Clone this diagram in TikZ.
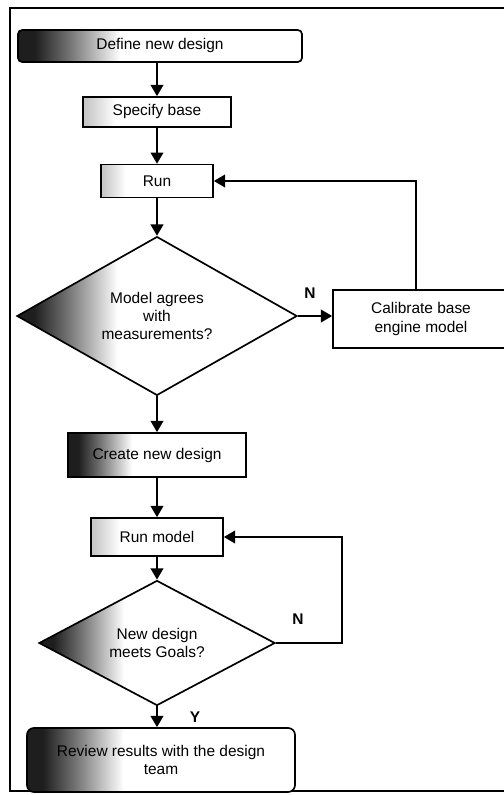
\documentclass[tikz,border=0pt]{standalone}
\usepackage{fontspec}
\setmainfont{Liberation Sans}
\usetikzlibrary{positioning,arrows.meta,shapes.geometric}
\pgfdeclarehorizontalshading{darkfade}{100bp}{color(0bp)=(black!92); color(28bp)=(black!88); color(34bp)=(black!55); color(43bp)=(white); color(100bp)=(white)}
\pgfdeclarehorizontalshading{lightfade}{100bp}{color(0bp)=(black!22); color(26bp)=(black!22); color(36bp)=(white); color(100bp)=(white)}

\begin{document}
\begin{tikzpicture}[x=0.025cm, y=-0.025cm,
        stepbox/.style={draw, line width=1.2pt, shading=lightfade, align=center, inner sep=2pt, font=\fontsize{11}{13}\selectfont},
        darkbox/.style={stepbox, shading=darkfade},
        decide/.style={diamond, draw, line width=1.2pt, align=center, inner sep=0pt, font=\fontsize{11}{13}\selectfont},
        arr/.style={-{Triangle[width=9pt,length=8pt]}, line width=1.3pt},
        yn/.style={font=\bfseries\fontsize{11}{13}\selectfont}]
      \useasboundingbox (0,0) rectangle (504,795);
      \clip (0,0) rectangle (504,795);
      \draw[line width=1.3pt] (520,8) -- (10,8) -- (10,791) -- (520,791);
      \node[darkbox, rounded corners=3pt, minimum width=7.1cm, minimum height=0.8cm] (define) at (160,46) {Define new design};
      \node[stepbox, minimum width=3.7cm, minimum height=0.75cm] (specify) at (157,112) {Specify base};
      \node[stepbox, minimum width=2.8cm, minimum height=0.82cm] (run) at (157,181) {Run};
      \node[decide, shading=darkfade, minimum width=7.0cm, minimum height=3.95cm] (agree) at (157,316) {Model agrees\\with\\measurements?};
      \node[stepbox, shading=axis, left color=white, right color=white, minimum width=4.4cm, minimum height=1.45cm] (calib) at (421,319) {Calibrate base\\engine model};
      \node[darkbox, minimum width=4.45cm, minimum height=1.1cm] (create) at (157,455) {Create new design};
      \node[stepbox, minimum width=3.3cm, minimum height=0.95cm] (runmodel) at (157,537) {Run model};
      \node[decide, shading=darkfade, minimum width=5.9cm, minimum height=2.6cm] (goals) at (157,643) {New design\\meets Goals?};
      \node[darkbox, rounded corners=5pt, minimum width=6.7cm, minimum height=1.6cm] (review) at (161,760) {Review results with the design\\team};
      \coordinate (loopb) at (342,643);
      \draw[arr] (define.south -| specify) -- (specify.north);
      \draw[arr] (specify) -- (run);
      \draw[arr] (run) -- (agree);
      \draw[arr] (agree.east) -- (agree.east -| calib.west);
      \draw[arr] (calib.north -| 416,0) |- (run.east);
      \draw[arr] (agree) -- (create);
      \draw[arr] (create) -- (runmodel);
      \draw[arr] (runmodel) -- (goals);
      \draw[arr] (goals.east) -- (loopb) |- (runmodel.east);
      \draw[arr] (goals.south) -- (goals.south |- review.north);
      \node[yn] at (310,293) {N};
      \node[yn] at (298,619) {N};
      \node[yn] at (195,717) {Y};
    \end{tikzpicture}
\end{document}
